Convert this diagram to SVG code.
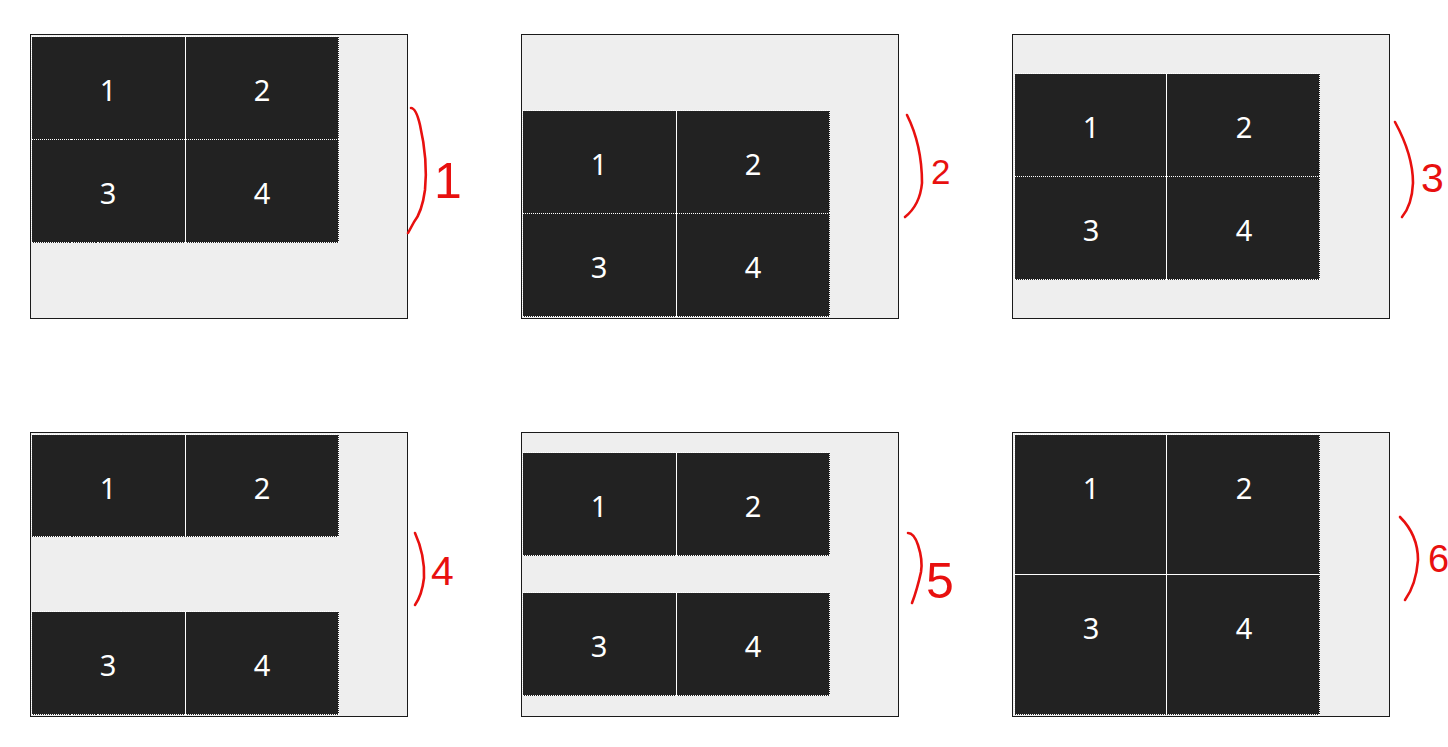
<svg xmlns="http://www.w3.org/2000/svg" width="1448" height="747" viewBox="0 0 1448 747">
<style>
.frame{fill:#eeeeee;stroke:#1a1a1a;stroke-width:1;shape-rendering:crispEdges}
.cell{fill:#222222;stroke:#ffffff;stroke-width:1;stroke-dasharray:1 1;shape-rendering:crispEdges}
.num{fill:#ffffff;font-family:"Noto Sans","Open Sans",sans-serif;font-size:29px;text-anchor:middle}
.mark{fill:none;stroke:#e8100f;stroke-width:2.6;stroke-linecap:round;stroke-linejoin:round}
.hand{fill:#e8100f;font-family:"Liberation Sans",sans-serif;font-weight:normal}
</style>
<rect width="1448" height="747" fill="#ffffff"/>

<g id="panel1">
<rect class="frame" x="30.5" y="34.5" width="377" height="284"/>
<rect class="cell" x="31.5" y="36.5" width="154" height="103"/>
<rect class="cell" x="185.5" y="36.5" width="153" height="103"/>
<rect class="cell" x="31.5" y="139.5" width="154" height="103"/>
<rect class="cell" x="185.5" y="139.5" width="153" height="103"/>
<text class="num" x="108" y="101">1</text>
<text class="num" x="262" y="101">2</text>
<text class="num" x="108" y="204">3</text>
<text class="num" x="262" y="204">4</text>
</g>

<g id="panel2">
<rect class="frame" x="521.5" y="34.5" width="377" height="284"/>
<rect class="cell" x="522.5" y="110.5" width="154" height="103"/>
<rect class="cell" x="676.5" y="110.5" width="153" height="103"/>
<rect class="cell" x="522.5" y="213.5" width="154" height="103"/>
<rect class="cell" x="676.5" y="213.5" width="153" height="103"/>
<text class="num" x="599" y="175">1</text>
<text class="num" x="753" y="175">2</text>
<text class="num" x="599" y="278">3</text>
<text class="num" x="753" y="278">4</text>
</g>

<g id="panel3">
<rect class="frame" x="1012.5" y="34.5" width="377" height="284"/>
<rect class="cell" x="1014.5" y="73.5" width="152" height="103"/>
<rect class="cell" x="1166.5" y="73.5" width="153" height="103"/>
<rect class="cell" x="1014.5" y="176.5" width="152" height="103"/>
<rect class="cell" x="1166.5" y="176.5" width="153" height="103"/>
<text class="num" x="1091" y="138">1</text>
<text class="num" x="1244" y="138">2</text>
<text class="num" x="1091" y="241">3</text>
<text class="num" x="1244" y="241">4</text>
</g>

<g id="panel4">
<rect class="frame" x="30.5" y="432.5" width="377" height="284"/>
<rect class="cell" x="31.5" y="434.5" width="154" height="102"/>
<rect class="cell" x="185.5" y="434.5" width="153" height="102"/>
<rect class="cell" x="31.5" y="611.5" width="154" height="103"/>
<rect class="cell" x="185.5" y="611.5" width="153" height="103"/>
<text class="num" x="108" y="499">1</text>
<text class="num" x="262" y="499">2</text>
<text class="num" x="108" y="676">3</text>
<text class="num" x="262" y="676">4</text>
</g>

<g id="panel5">
<rect class="frame" x="521.5" y="432.5" width="377" height="284"/>
<rect class="cell" x="522.5" y="452.5" width="154" height="103"/>
<rect class="cell" x="676.5" y="452.5" width="153" height="103"/>
<rect class="cell" x="522.5" y="592.5" width="154" height="103"/>
<rect class="cell" x="676.5" y="592.5" width="153" height="103"/>
<text class="num" x="599" y="517">1</text>
<text class="num" x="753" y="517">2</text>
<text class="num" x="599" y="657">3</text>
<text class="num" x="753" y="657">4</text>
</g>

<g id="panel6">
<rect class="frame" x="1012.5" y="432.5" width="377" height="284"/>
<rect class="cell" x="1014.5" y="434.5" width="152" height="140"/>
<rect class="cell" x="1166.5" y="434.5" width="153" height="140"/>
<rect class="cell" x="1014.5" y="574.5" width="152" height="140"/>
<rect class="cell" x="1166.5" y="574.5" width="153" height="140"/>
<text class="num" x="1091" y="499">1</text>
<text class="num" x="1244" y="499">2</text>
<text class="num" x="1091" y="639">3</text>
<text class="num" x="1244" y="639">4</text>
</g>

<g id="annotations">
<path class="mark" d="M411,108 Q416,108 420,125 Q428,160 425,190 Q422,212 414,222 L408,233"/>
<text class="hand" x="434" y="198" font-size="50">1</text>
<path class="mark" d="M907,115 Q922,145 922,183 Q920,205 905,217"/>
<text class="hand" x="931" y="184" font-size="35">2</text>
<path class="mark" d="M1395,122 Q1413,155 1413,183 Q1412,205 1402,217"/>
<text class="hand" x="1421" y="192" font-size="41">3</text>
<path class="mark" d="M415,533 Q425,555 424,578 Q422,595 415,605"/>
<text class="hand" x="431" y="585" font-size="41">4</text>
<path class="mark" d="M908,533 Q914,533 918,545 Q923,560 921,572 Q917,590 912,603"/>
<text class="hand" x="926" y="598" font-size="50">5</text>
<path class="mark" d="M1400,517 Q1418,535 1418,560 Q1416,585 1405,600"/>
<text class="hand" x="1428" y="572" font-size="38">6</text>
</g>
</svg>
